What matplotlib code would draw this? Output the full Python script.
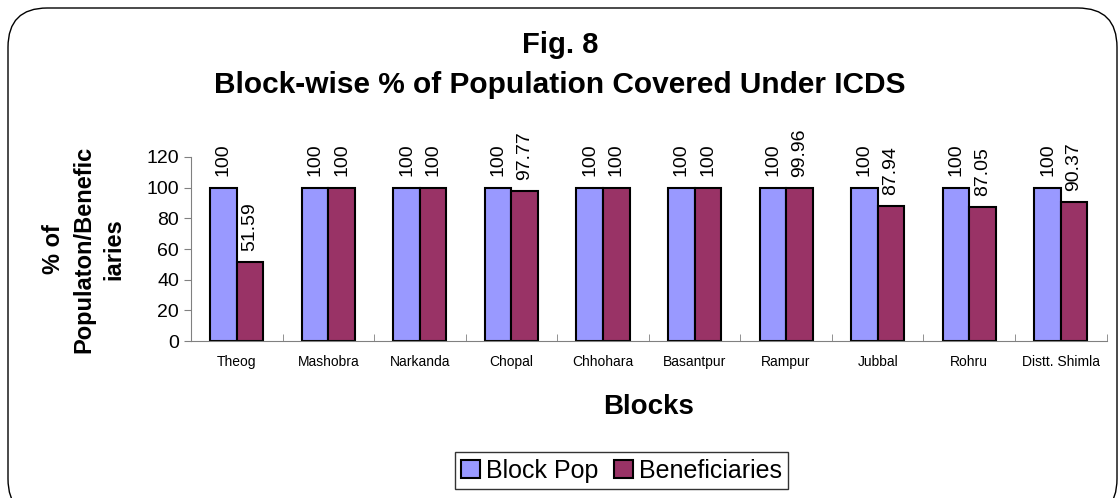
import numpy as np
import matplotlib.pyplot as plt
from matplotlib.patches import FancyBboxPatch

plt.rcParams['font.family'] = ['Liberation Sans', 'DejaVu Sans']

blocks = ["Theog", "Mashobra", "Narkanda", "Chopal", "Chhohara",
          "Basantpur", "Rampur", "Jubbal", "Rohru", "Distt. Shimla"]
block_pop = [100, 100, 100, 100, 100, 100, 100, 100, 100, 100]
beneficiaries = [51.59, 100, 100, 97.77, 100, 100, 99.96, 87.94, 87.05, 90.37]
beneficiary_labels = ["51.59", "100", "100", "97.77", "100",
                      "100", "99.96", "87.94", "87.05", "90.37"]

fig = plt.figure(figsize=(11.2, 4.98), dpi=100)
ax = fig.add_axes([0.1705, 0.315, 0.8175, 0.37])

# rounded chart-area frame
frame = FancyBboxPatch((8 / 1120, -20 / 498), 1109 / 1120, 510 / 498,
                       boxstyle="round,pad=0,rounding_size=0.035",
                       transform=fig.transFigure, fill=False,
                       edgecolor="black", linewidth=1.0, zorder=0,
                       mutation_aspect=1120 / 498)
fig.patches.append(frame)

x = np.arange(len(blocks))
w = 0.29
b1 = ax.bar(x - w / 2, block_pop, w, color="#9999FF", edgecolor="black",
            linewidth=1.5, label="Block Pop")
b2 = ax.bar(x + w / 2, beneficiaries, w, color="#993366", edgecolor="black",
            linewidth=1.5, label="Beneficiaries")

for rect, v in zip(b1, block_pop):
    ax.annotate(str(v), (rect.get_x() + rect.get_width() / 2, rect.get_height()),
                xytext=(0, 8), textcoords="offset points",
                rotation=90, ha="center", va="bottom", fontsize=14)
for rect, lab in zip(b2, beneficiary_labels):
    ax.annotate(lab, (rect.get_x() + rect.get_width() / 2, rect.get_height()),
                xytext=(0, 8), textcoords="offset points",
                rotation=90, ha="center", va="bottom", fontsize=14)

ax.set_xlim(-0.5, len(blocks) - 0.5)
ax.set_ylim(0, 120)
ax.set_yticks(range(0, 121, 20))
ax.tick_params(axis="y", labelsize=14, length=5, color="#808080")
ax.set_xticks(x)
ax.set_xticklabels(blocks, fontsize=10)
ax.tick_params(axis="x", length=0, pad=10)
ax.set_xticks(np.arange(-0.5, len(blocks), 1), minor=True)
ax.tick_params(axis="x", which="minor", length=5, color="#808080", direction="in")
for side in ["top", "right"]:
    ax.spines[side].set_visible(False)
for side in ["left", "bottom"]:
    ax.spines[side].set_color("#808080")

ax.set_xlabel("Blocks", fontsize=20, fontweight="bold", labelpad=18)
ax.set_ylabel("% of\nPopulaton/Benefic\niaries", fontsize=17, fontweight="bold",
              labelpad=15, linespacing=1.4)

fig.text(0.5, 0.91, "Fig. 8", ha="center", va="center",
         fontsize=21, fontweight="bold")
fig.text(0.5, 0.83, "Block-wise % of Population Covered Under ICDS",
         ha="center", va="center", fontsize=21.5, fontweight="bold")

leg = fig.legend(loc="center", bbox_to_anchor=(0.555, 0.055), ncol=2, fontsize=18,
                 frameon=True, fancybox=False, handlelength=0.75, handleheight=0.75,
                 handletextpad=0.25, columnspacing=0.6, borderpad=0.25)
leg.get_frame().set_edgecolor("black")
leg.get_frame().set_linewidth(1.0)

fig.savefig("out.png", dpi=100)
